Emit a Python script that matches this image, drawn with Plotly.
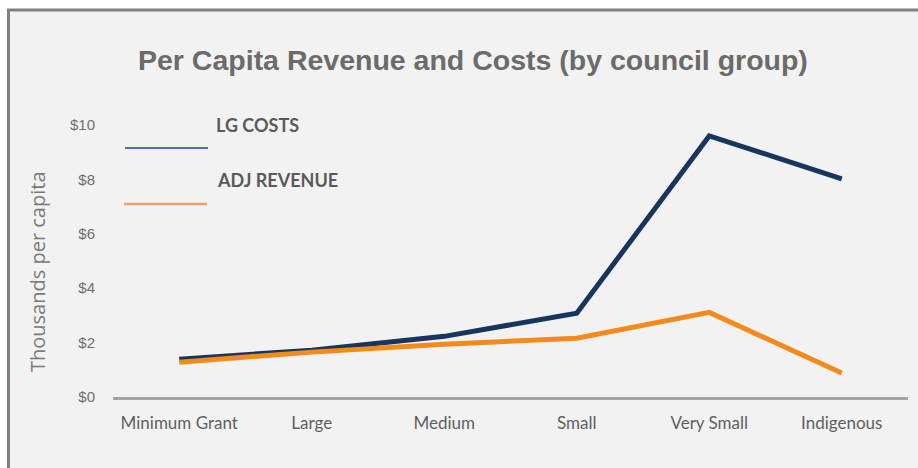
import plotly.graph_objects as go

# Council groups and per-capita values (thousands of dollars)
groups = ["Minimum Grant", "Large", "Medium", "Small", "Very Small", "Indigenous"]
lg_costs = [1.39, 1.72, 2.23, 3.08, 9.60, 8.02]
adj_revenue = [1.28, 1.65, 1.94, 2.16, 3.11, 0.88]
y_ticks = [0, 2, 4, 6, 8, 10]
y_tick_text = ["$0", "$2", "$4", "$6", "$8", "$10"]

W, H = 918, 468
L, R, T, B = 113, 10, 125, 71
PW, PH = W - L - R, H - T - B


def px(x):
    return (x - L) / PW


def py(y):
    return (H - B - y) / PH


fig = go.Figure()
fig.add_trace(go.Scatter(x=groups, y=lg_costs, mode="lines", name="LG COSTS",
                         line=dict(color="#17365d", width=5)))
fig.add_trace(go.Scatter(x=groups, y=adj_revenue, mode="lines", name="ADJ REVENUE",
                         line=dict(color="#f28a1c", width=5)))

shapes = [
    # white surround outside the framed panel
    dict(type="rect", xref="paper", yref="paper", x0=px(-5), x1=px(W + 5), y0=py(-5), y1=py(9),
         fillcolor="white", line=dict(width=0), layer="below"),
    dict(type="rect", xref="paper", yref="paper", x0=px(-5), x1=px(7), y0=py(-5), y1=py(H + 5),
         fillcolor="white", line=dict(width=0), layer="below"),
    # frame edges
    dict(type="line", xref="paper", yref="paper", x0=px(7), x1=px(W + 5), y0=py(10), y1=py(10),
         line=dict(color="#7d827f", width=3)),
    dict(type="line", xref="paper", yref="paper", x0=px(8.5), x1=px(8.5), y0=py(9), y1=py(H + 5),
         line=dict(color="#7d827f", width=3)),
    # legend swatches
    dict(type="line", xref="paper", yref="paper", x0=px(125), x1=px(208), y0=py(148), y1=py(148),
         line=dict(color="#4a6fb5", width=2)),
    dict(type="line", xref="paper", yref="paper", x0=px(124), x1=px(207), y0=py(204), y1=py(204),
         line=dict(color="#e6a377", width=2.5)),
]

annotations = [
    dict(text="<b>Per Capita Revenue and Costs (by council group)</b>", xref="paper", yref="paper",
         x=px(473), y=py(60), xanchor="center", yanchor="middle", showarrow=False,
         font=dict(family="Liberation Sans, Arial", size=28.5, color="#6b6b6b")),
    dict(text="<b>LG COSTS</b>", xref="paper", yref="paper", x=px(214), y=py(125),
         xanchor="left", yanchor="middle", showarrow=False,
         font=dict(family="Lato, Open Sans", size=18, color="#5a5a5a")),
    dict(text="<b>ADJ REVENUE</b>", xref="paper", yref="paper", x=px(215), y=py(180),
         xanchor="left", yanchor="middle", showarrow=False,
         font=dict(family="Lato, Open Sans", size=18, color="#5a5a5a")),
    dict(text="Thousands per capita", xref="paper", yref="paper", x=px(37), y=py(272),
         xanchor="center", yanchor="middle", textangle=-90, showarrow=False,
         font=dict(family="Open Sans", size=20, color="#7a7a7a")),
]

fig.update_layout(
    width=W, height=H,
    margin=dict(l=L, r=R, t=T, b=B),
    paper_bgcolor="#f2f2f2", plot_bgcolor="#f2f2f2",
    showlegend=False,
    shapes=shapes, annotations=annotations,
)
fig.update_xaxes(
    range=[-0.5, 5.5], showgrid=False, zeroline=False,
    showline=True, linecolor="#a3a3a3", linewidth=3,
    ticks="", ticklabelstandoff=9,
    tickfont=dict(family="Lato, Open Sans", size=17, color="#5f5f5f"),
)
fig.update_yaxes(
    range=[0, 10], showgrid=False, zeroline=False, showline=False,
    tickvals=y_ticks, ticktext=y_tick_text, ticks="", ticklabelstandoff=17,
    tickfont=dict(family="Liberation Sans Narrow, Arial Narrow, Liberation Sans", size=15, color="#6e6e6e"),
)

fig.write_html("out.html")
